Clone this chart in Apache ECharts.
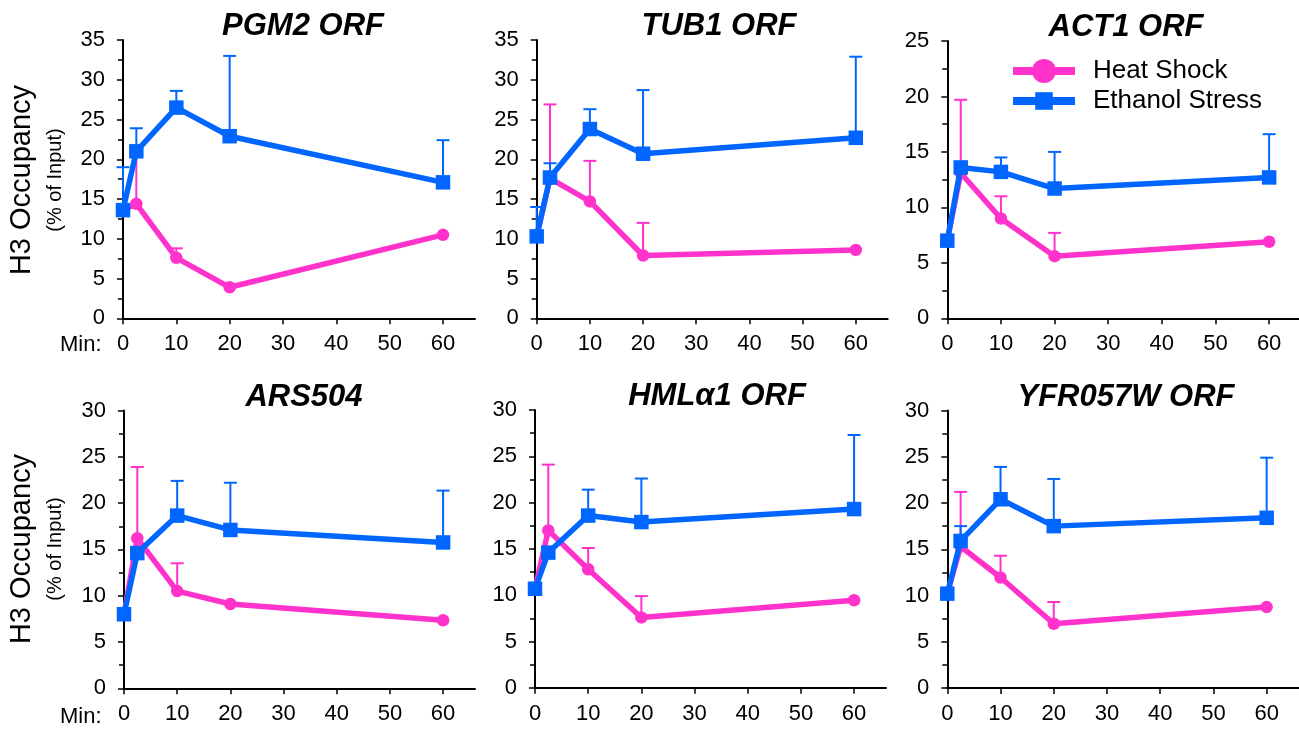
<!DOCTYPE html>
<html>
<head>
<meta charset="utf-8">
<script src="https://cdn.jsdelivr.net/npm/echarts@6/dist/echarts.min.js"></script>
<style>
  html, body { margin: 0; padding: 0; background: #fff; }
  #chart { width: 1299px; height: 732px; }
</style>
</head>
<body>
<div id="chart"></div>
<script>
// Sampling times (minutes)
const minutes = [0, 2.5, 10, 20, 60];
const xTicks = [0, 10, 20, 30, 40, 50, 60];

// H3 occupancy (% of input) and upper error (SD) for each locus
const pgm2Heat = [13.6, 14.4, 7.6, 3.9, 10.5];
const pgm2HeatErr = [null, 6.9, 1.2, null, null];
const pgm2Eth = [13.6, 21.0, 26.5, 22.9, 17.1];
const pgm2EthErr = [5.4, 2.9, 2.1, 10.1, 5.3];

const tub1Heat = [10.3, 17.6, 14.7, 7.9, 8.6];
const tub1HeatErr = [null, 9.3, 5.1, 4.1, null];
const tub1Eth = [10.3, 17.7, 23.8, 20.7, 22.7];
const tub1EthErr = [3.7, 1.8, 2.5, 8.0, 10.2];

const act1Heat = [7.0, 13.1, 9.0, 5.6, 6.9];
const act1HeatErr = [null, 6.6, 2.0, 2.1, null];
const act1Eth = [7.0, 13.6, 13.2, 11.7, 12.7];
const act1EthErr = [null, null, 1.3, 3.3, 3.9];

const ars504Heat = [8.0, 16.2, 10.5, 9.1, 7.35];
const ars504HeatErr = [null, 7.7, 3.0, null, null];
const ars504Eth = [8.0, 14.6, 18.65, 17.1, 15.75];
const ars504EthErr = [null, null, 3.75, 5.1, 5.6];

const hmlHeat = [10.7, 17.0, 12.8, 7.6, 9.45];
const hmlHeatErr = [null, 7.1, 2.3, 2.3, null];
const hmlEth = [10.7, 14.6, 18.6, 17.9, 19.3];
const hmlEthErr = [null, null, 2.8, 4.7, 8.0];

const yfrHeat = [10.2, 15.3, 11.95, 6.95, 8.75];
const yfrHeatErr = [null, 5.9, 2.35, 2.35, null];
const yfrEth = [10.2, 15.9, 20.4, 17.5, 18.4];
const yfrEthErr = [null, 1.6, 3.5, 5.1, 6.5];

const titles = ['PGM2 ORF', 'TUB1 ORF', 'ACT1 ORF', 'ARS504', 'HMLα1 ORF', 'YFR057W ORF'];
const yMax = [35, 35, 25, 30, 30, 30];

const PINK = '#ff33cc';
const BLUE = '#0066ff';
const FONT = '"Liberation Sans", Arial, Helvetica, sans-serif';

const panels = [
  { heat: pgm2Heat, heatErr: pgm2HeatErr, eth: pgm2Eth, ethErr: pgm2EthErr },
  { heat: tub1Heat, heatErr: tub1HeatErr, eth: tub1Eth, ethErr: tub1EthErr },
  { heat: act1Heat, heatErr: act1HeatErr, eth: act1Eth, ethErr: act1EthErr },
  { heat: ars504Heat, heatErr: ars504HeatErr, eth: ars504Eth, ethErr: ars504EthErr },
  { heat: hmlHeat, heatErr: hmlHeatErr, eth: hmlEth, ethErr: hmlEthErr },
  { heat: yfrHeat, heatErr: yfrHeatErr, eth: yfrEth, ethErr: yfrEthErr }
];

// Plot-area boxes for the 2 x 3 layout
const boxes = [
  { left: 123,   top: 40,    width: 352, height: 278.3, cx: 303 },
  { left: 536.7, top: 40,    width: 351, height: 278.3, cx: 719 },
  { left: 947.3, top: 41,    width: 354, height: 277.3, cx: 1126 },
  { left: 124,   top: 410.5, width: 351, height: 277.8, cx: 304 },
  { left: 535,   top: 410,   width: 351, height: 277.8, cx: 717 },
  { left: 947.3, top: 410.5, width: 351.3, height: 277.5, cx: 1126 }
];

const grids = [], xAxes = [], yAxes = [], series = [], graphics = [];

function errorBarSeries(idx, values, errs, color, z) {
  const data = [];
  values.forEach((v, i) => {
    if (errs[i] != null) data.push([minutes[i], v, v + errs[i]]);
  });
  return {
    type: 'custom',
    name: 'err' + idx + color,
    xAxisIndex: idx,
    yAxisIndex: idx,
    z: z,
    silent: true,
    encode: { x: 0, y: [1, 2] },
    data: data,
    renderItem: function (params, api) {
      const x = api.value(0);
      const p0 = api.coord([x, api.value(1)]);
      const p1 = api.coord([x, api.value(2)]);
      const half = 6.5;
      return {
        type: 'group',
        children: [
          { type: 'line', shape: { x1: p0[0], y1: p0[1], x2: p1[0], y2: p1[1] },
            style: { stroke: color, lineWidth: 2 } },
          { type: 'line', shape: { x1: p1[0] - half, y1: p1[1], x2: p1[0] + half, y2: p1[1] },
            style: { stroke: color, lineWidth: 2 } }
        ]
      };
    }
  };
}

panels.forEach((p, i) => {
  const b = boxes[i];
  grids.push({ left: b.left, top: b.top, width: b.width, height: b.height, outerBoundsMode: 'none', containLabel: false });
  xAxes.push({
    type: 'value', gridIndex: i, min: 0, max: 66, interval: 10,
    axisLine: { show: true, lineStyle: { color: '#000', width: 2 } },
    axisTick: { show: true, length: 6, lineStyle: { color: '#000', width: 1.5 }, customValues: xTicks },
    axisLabel: { fontSize: 22, color: '#000', fontFamily: FONT, margin: 15, customValues: xTicks },
    splitLine: { show: false }
  });
  yAxes.push({
    type: 'value', gridIndex: i, min: 0, max: yMax[i], interval: 5,
    axisLine: { show: true, lineStyle: { color: '#000', width: 2 } },
    axisTick: { show: true, length: 6, lineStyle: { color: '#000', width: 1.5 } },
    minorTick: { show: true, splitNumber: 2, length: 5, lineStyle: { color: '#000', width: 1.5 } },
    axisLabel: { fontSize: 22, color: '#000', fontFamily: FONT, margin: 18 },
    splitLine: { show: false },
    minorSplitLine: { show: false }
  });

  series.push(errorBarSeries(i, p.heat, p.heatErr, PINK, 2));
  series.push({
    type: 'line', name: 'Heat Shock', xAxisIndex: i, yAxisIndex: i, z: 3,
    data: minutes.map((t, k) => [t, p.heat[k]]),
    symbol: 'circle', symbolSize: 12.5,
    lineStyle: { color: PINK, width: 5.5 },
    itemStyle: { color: PINK },
    animation: false, silent: true
  });
  series.push(errorBarSeries(i, p.eth, p.ethErr, BLUE, 4));
  series.push({
    type: 'line', name: 'Ethanol Stress', xAxisIndex: i, yAxisIndex: i, z: 5,
    data: minutes.map((t, k) => [t, p.eth[k]]),
    symbol: 'rect', symbolSize: 14.5,
    lineStyle: { color: BLUE, width: 5.5 },
    itemStyle: { color: BLUE },
    animation: false, silent: true
  });

  graphics.push({
    type: 'text', x: b.cx, y: b.top - 29,
    style: { text: titles[i], fontSize: 31, fontWeight: 'bold', fontStyle: 'italic',
             fontFamily: FONT, fill: '#000', textAlign: 'center', textVerticalAlign: 'top' }
  });
});

// Row labels on the left edge
[180, 549].forEach(cy => {
  graphics.push({
    type: 'text', x: 22, y: cy, rotation: Math.PI / 2,
    style: { text: 'H3 Occupancy', fontSize: 29, fontFamily: FONT, fill: '#000',
             textAlign: 'center', textVerticalAlign: 'middle' }
  });
  graphics.push({
    type: 'text', x: 55, y: cy, rotation: Math.PI / 2,
    style: { text: '(% of Input)', fontSize: 20, fontFamily: FONT, fill: '#000',
             textAlign: 'center', textVerticalAlign: 'middle' }
  });
});
[345, 717].forEach(cy => {
  graphics.push({
    type: 'text', x: 60, y: cy,
    style: { text: 'Min:', fontSize: 22, fontFamily: FONT, fill: '#000',
             textAlign: 'left', textVerticalAlign: 'middle' }
  });
});

const chart = echarts.init(document.getElementById('chart'), null, { renderer: 'canvas' });
chart.setOption({
  animation: false,
  backgroundColor: '#fff',
  grid: grids,
  xAxis: xAxes,
  yAxis: yAxes,
  legend: [
    { data: ['Heat Shock'], left: 1009, top: 58, padding: 0, itemWidth: 62, itemHeight: 30,
      lineStyle: { width: 8 }, selectedMode: false,
      textStyle: { fontSize: 26, fontFamily: FONT, color: '#000', padding: [0, 0, 0, 13] } },
    { data: ['Ethanol Stress'], left: 1009, top: 88, padding: 0, itemWidth: 62, itemHeight: 22,
      lineStyle: { width: 8 }, selectedMode: false,
      textStyle: { fontSize: 26, fontFamily: FONT, color: '#000', padding: [0, 0, 0, 13] } }
  ],
  series: series,
  graphic: graphics
});
</script>
</body>
</html>
